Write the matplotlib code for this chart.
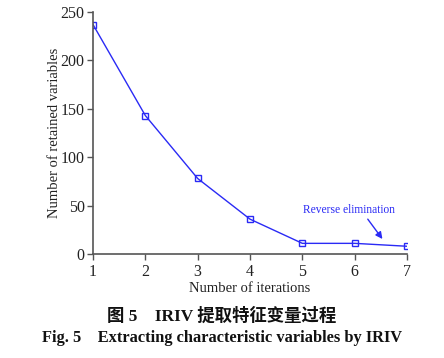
import matplotlib
matplotlib.use("Agg")
import matplotlib.pyplot as plt

# IRIV iterations vs retained variables
iterations = [1, 2, 3, 4, 5, 6, 7]
retained = [237, 143, 78, 36, 11, 11, 8]
x_ticks = [1, 2, 3, 4, 5, 6, 7]
y_ticks = [0, 50, 100, 150, 200, 250]

plt.rcParams['font.family'] = ['Liberation Serif', 'Noto Sans CJK SC']

fig = plt.figure(figsize=(4.44, 3.58), dpi=100)
ax = fig.add_axes([0.2095, 0.2905, 0.7072, 0.676])

ax.plot(iterations, retained, color='#2a2af5', lw=1.0, marker='s', ms=4,
        mfc='none', mec='#2a2af5', mew=1.0)

ax.set_xlim(1, 7)
ax.set_ylim(0, 250)
ax.set_xticks(x_ticks)
ax.set_yticks(y_ticks)
ax.spines['top'].set_visible(False)
ax.spines['right'].set_visible(False)
for s in ['left', 'bottom']:
    ax.spines[s].set_color('#555555')
    ax.spines[s].set_linewidth(1.2)
ax.tick_params(direction='out', length=4, width=1, colors='#555555',
               labelcolor='#222222', labelsize=11.5)
ax.tick_params(axis='y', pad=2)
ax.set_xlabel("Number of iterations", fontsize=10.5, color='#222222', labelpad=1)
ax.set_ylabel("Number of retained variables", fontsize=10.5, color='#222222', labelpad=0)

# annotation
ax.text(5.89, 45, "Reverse elimination", color='#2a2af5', fontsize=8.3,
        ha='center', va='center')
ax.annotate("", xy=(6.53, 15.5), xytext=(6.25, 36),
            arrowprops=dict(arrowstyle='-|>', color='#2a2af5', lw=1.0,
                            shrinkA=0, shrinkB=0, mutation_scale=10))

fig.text(0.5, 0.118, "图 5    IRIV 提取特征变量过程", ha='center', va='center',
         fontsize=12.5, fontweight='bold', color='#111111')
fig.text(0.5, 0.055, "Fig. 5    Extracting characteristic variables by IRIV",
         ha='center', va='center', fontsize=11.8, fontweight='bold', color='#111111')

fig.savefig("out.png", dpi=100)
